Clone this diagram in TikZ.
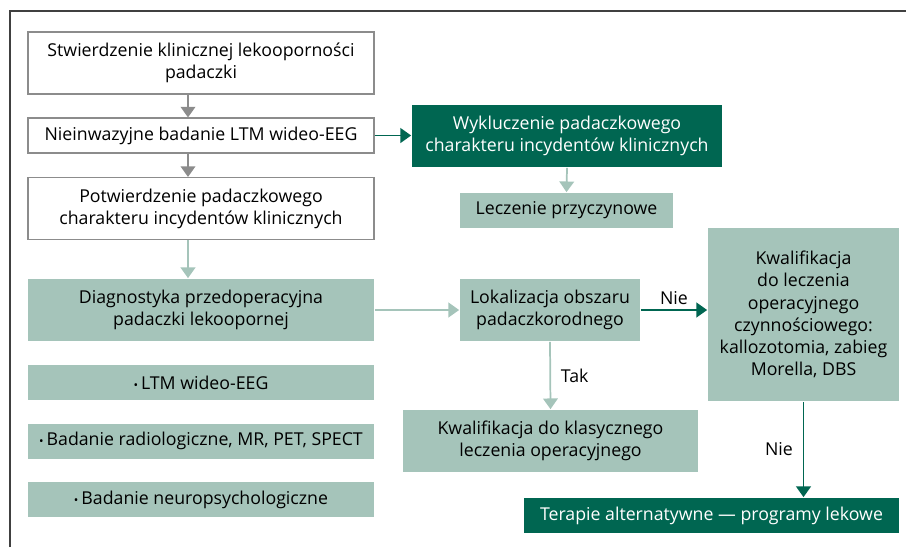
\documentclass[tikz,border=0pt]{standalone}
\usepackage{fontspec}
\setmainfont{Open Sans}
\usepackage{tikz}
\usetikzlibrary{arrows.meta}

\definecolor{darkgreen}{HTML}{006651}
\definecolor{lightgreen}{HTML}{A5C4BA}
\definecolor{boxgray}{HTML}{8C8C8C}

\begin{document}
\begin{tikzpicture}[x=0.75pt,y=-0.75pt,>={Triangle[width=11pt,length=8pt]},
                    line width=1.3pt,font=\fontsize{13.3}{16.6}\selectfont,
                    whitebox/.style={draw=boxgray,line width=0.8pt,fill=white,align=center,inner sep=0pt},
                    lightbox/.style={fill=lightgreen,align=center,inner sep=0pt},
                    darkbox/.style={fill=darkgreen,text=white,align=center,inner sep=0pt},
                    leftcol/.style={minimum width=259.5pt},
                    tall/.style={minimum height=46.5pt},
                    short/.style={minimum height=26.25pt},
                    grayarrow/.style={->,draw=boxgray},
                    lightarrow/.style={->,draw=lightgreen},
                    darkarrow/.style={->,draw=darkgreen}]
  \useasboundingbox (0,0) rectangle (906,547);
%  frame
  \draw[line width=1.2pt,draw=black!75] (10,547) -- (10,11) -- (906,11);

  \node[whitebox,leftcol,tall]  (stw)  at (201,63)    {Stwierdzenie klinicznej lekooporności\\padaczki};
  \node[whitebox,leftcol,short] (ltm)  at (201,135.5) {Nieinwazyjne badanie LTM wideo-EEG};
  \node[whitebox,leftcol,tall]  (pot)  at (201,208.5) {Potwierdzenie padaczkowego\\charakteru incydentów klinicznych};
  \node[lightbox,leftcol,tall]  (diag) at (201,310)   {Diagnostyka przedoperacyjna\\padaczki lekoopornej};
  \node[lightbox,leftcol,short] (eeg)  at (201,382.5) {{\small•}\,LTM wideo-EEG};
  \node[lightbox,leftcol,short] (rad)  at (201,441)   {{\small•}\,Badanie radiologiczne, MR, PET, SPECT};
  \node[lightbox,leftcol,short] (neu)  at (201,499.5) {{\small•}\,Badanie neuropsychologiczne};

  \node[darkbox,minimum width=232.5pt,tall]  (wyk) at (567,136)   {Wykluczenie padaczkowego\\charakteru incydentów klinicznych};
  \node[lightbox,minimum width=159.75pt,short] (lec) at (566.5,210.5) {Leczenie przyczynowe};
  \node[lightbox,minimum width=135pt,tall]   (lok) at (550,310)   {Lokalizacja obszaru\\padaczkorodnego};
  \node[lightbox,minimum width=143.25pt,minimum height=129.75pt] (kwop) at (803.5,314.5)
        {Kwalifikacja\\do leczenia\\operacyjnego\\czynnościowego:\\kallozotomia, zabieg\\Morella, DBS};
  \node[lightbox,minimum width=221.25pt,tall] (kwkl) at (550.5,441) {Kwalifikacja do klasycznego\\leczenia operacyjnego};
  \node[darkbox,minimum width=281.25pt,short] (ter) at (711.5,515.5) {Terapie alternatywne — programy lekowe};

  \coordinate (ax) at (188,0);

  \draw[grayarrow]  (stw.south -| ax) -- (ltm.north -| ax);
  \draw[grayarrow]  (ltm.south -| ax) -- (pot.north -| ax);
  \draw[lightarrow] (pot.south -| ax) -- (diag.north -| ax);
  \draw[darkarrow]  (ltm.east) -- (ltm.east -| wyk.west);
  \draw[lightarrow] (wyk.south) -- (lec.north);
  \draw[lightarrow] (diag.east) -- (lok.west);
  \draw[darkarrow]  (lok.east) -- node[above,text=black] {Nie} (lok.east -| kwop.west);
  \draw[lightarrow] (lok.south) -- node[right=4pt,text=black] {Tak} (kwkl.north);
  \draw[darkarrow]  (kwop.south) -- node[left=4pt,text=black] {Nie} (kwop.south |- ter.north);

\end{tikzpicture}
\end{document}
